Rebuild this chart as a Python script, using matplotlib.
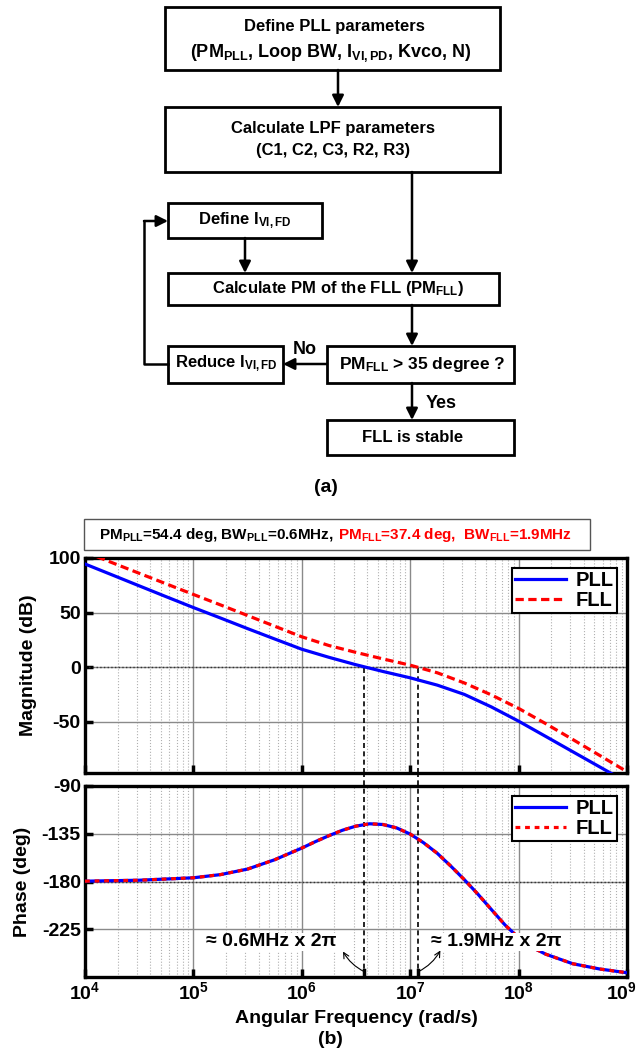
import matplotlib
matplotlib.use('Agg')
import matplotlib.pyplot as plt
from matplotlib import font_manager
from matplotlib.patches import Rectangle
from matplotlib.ticker import FixedLocator, FixedFormatter, NullFormatter

# Font: narrow bold if available
fam = 'Liberation Sans'
for cand in ['Liberation Sans Narrow', 'Liberation Sans']:
    try:
        font_manager.findfont(font_manager.FontProperties(family=[cand]), fallback_to_default=False)
        fam = cand
        break
    except ValueError:
        pass

plt.rcParams['font.family'] = [fam, 'DejaVu Sans']
plt.rcParams['font.weight'] = 'bold'
plt.rcParams['axes.labelweight'] = 'bold'
plt.rcParams['axes.unicode_minus'] = False
plt.rcParams['mathtext.fontset'] = 'custom'
plt.rcParams['mathtext.rm'] = fam + ':bold'
plt.rcParams['mathtext.it'] = fam + ':bold'
plt.rcParams['mathtext.bf'] = fam + ':bold'
plt.rcParams['mathtext.default'] = 'rm'

# ---------------- data ----------------
omega = [1.00e4, 1.78e4, 3.16e4, 5.62e4, 1.00e5, 1.78e5, 3.16e5, 5.62e5,
         1.00e6, 1.78e6, 3.16e6, 5.62e6, 1.00e7, 1.78e7, 3.16e7, 5.62e7,
         1.00e8, 1.78e8, 3.16e8, 5.62e8, 1.00e9]
mag_pll = [94.5, 84.5, 74.5, 64.5, 54.6, 45.0, 35.3, 25.8,
           16.4, 9.0, 2.2, -4.0, -9.8, -16.5, -25.0, -36.5,
           -49.5, -63.5, -77.5, -91.5, -105.5]
mag_fll = [105.5, 95.7, 86.0, 76.3, 66.6, 57.0, 47.3, 37.5,
           27.8, 19.8, 13.5, 7.5, 1.8, -5.2, -14.5, -25.5,
           -37.8, -51.8, -66.3, -81.0, -95.8]

omega_ph = [1.00e4, 3.16e4, 1.00e5, 1.78e5, 3.16e5, 5.62e5,
            1.00e6, 1.33e6, 1.78e6, 2.37e6, 3.16e6, 4.22e6, 5.62e6, 7.50e6,
            1.00e7, 1.33e7, 1.78e7, 2.37e7, 3.16e7, 4.22e7, 5.62e7, 7.50e7,
            1.00e8, 1.33e8, 1.78e8, 3.16e8, 5.62e8, 1.00e9]
phase_pll = [-179.7, -178.8, -176.5, -173.5, -168.3, -159.5,
             -148.5, -142.5, -136.8, -131.7, -127.8, -125.6, -126.3, -129.5,
             -135.3, -143.5, -153.5, -165.5, -178.3, -192.0, -206.5, -221.0,
             -233.0, -242.0, -248.5, -257.5, -262.5, -266.0]
phase_fll = phase_pll

bw_pll = 3.77e6   # 0.6 MHz x 2pi
bw_fll = 1.19e7   # 1.9 MHz x 2pi

mag_ticks = [-50, 0, 50, 100]
phase_ticks = [-225, -180, -135, -90]
x_ticks = [1e4, 1e5, 1e6, 1e7, 1e8, 1e9]
x_labels = [r'10$^{4}$', r'10$^{5}$', r'10$^{6}$', r'10$^{7}$', r'10$^{8}$', r'10$^{9}$']

W, H = 640, 1061
fig = plt.figure(figsize=(W / 100, H / 100), dpi=100)


def px_axes(x0, y0, x1, y1):
    return fig.add_axes([x0 / W, 1 - y1 / H, (x1 - x0) / W, (y1 - y0) / H])


def style_axes(ax, yticks, ylim):
    ax.set_xscale('log')
    ax.set_xlim(1e4, 1e9)
    ax.set_ylim(*ylim)
    ax.xaxis.set_major_locator(FixedLocator(x_ticks))
    ax.yaxis.set_major_locator(FixedLocator(yticks))
    ax.xaxis.set_minor_formatter(NullFormatter())
    ax.grid(which='major', axis='both', color='#8a8a8a', lw=1.0, ls='-')
    ax.grid(which='minor', axis='x', color='#b0b0b0', lw=0.8, ls=':')
    ax.tick_params(which='major', direction='in', length=6, width=2.5,
                   labelsize=14, pad=3, top=False, right=False)
    ax.tick_params(which='minor', length=0)
    for s in ax.spines.values():
        s.set_linewidth(2.4)
    ax.set_axisbelow(True)


leg_kw = dict(loc='upper right', fontsize=14.5, frameon=True, fancybox=False,
              edgecolor='k', framealpha=1, handlelength=2.5, borderaxespad=0.5,
              borderpad=0.15, labelspacing=0.05, handletextpad=0.5)

# ---------------- magnitude ----------------
ax1 = px_axes(85, 558, 627, 773)
style_axes(ax1, mag_ticks, (-97, 100))
ax1.xaxis.set_major_formatter(NullFormatter())
ax1.axhline(0, color='#333333', lw=1.0, ls=':', zorder=1)
ax1.vlines([bw_pll, bw_fll], ax1.get_ylim()[0], 0, colors='k', lw=1.2, linestyles=(0, (3, 2)), zorder=2)
ax1.plot(omega, mag_pll, color='#0000ff', lw=2.3, label='PLL', zorder=3)
ax1.plot(omega, mag_fll, color='#ff0000', lw=2.3, ls='--', dashes=(2.6, 1.4), label='FLL', zorder=3)
ax1.set_ylabel('Magnitude (dB)', fontsize=14, labelpad=8)
leg = ax1.legend(**leg_kw)
leg.get_frame().set_linewidth(1.5)

# ---------------- phase ----------------
ax2 = px_axes(85, 786, 627, 977)
style_axes(ax2, phase_ticks, (-270, -90))
ax2.xaxis.set_major_formatter(FixedFormatter(x_labels[:-1] + ['']))
ax2.annotate(x_labels[-1], xy=(x_ticks[-1], 0), xycoords=('data', 'axes fraction'),
             xytext=(-4, -3.2), textcoords='offset points', ha='center', va='top', fontsize=14)
ax2.axhline(-180, color='#333333', lw=1.0, ls=':', zorder=1)
# dashed crossing lines, continued through the gap up to the magnitude plot
ax2.vlines([bw_pll, bw_fll], -270, -77, colors='k', lw=1.2, linestyles=(0, (3, 2)),
           zorder=2, clip_on=False)
for xb in [bw_pll, bw_fll]:
    ax2.axvline(xb, ymin=0, ymax=0.035, color='k', lw=2.5, zorder=2)
ax2.plot(omega_ph, phase_pll, color='#0000ff', lw=2.3, label='PLL', zorder=3)
ax2.plot(omega_ph, phase_fll, color='#ff0000', lw=2.3, ls='--', dashes=(1.5, 1.5), label='FLL', zorder=4)
ax2.set_ylabel('Phase (deg)', fontsize=14, labelpad=8)
ax2.set_xlabel('Angular Frequency (rad/s)', fontsize=14, labelpad=5)
leg2 = ax2.legend(**leg_kw)
leg2.get_frame().set_linewidth(1.5)

ax2.text(5.2e5, -237, '≈ 0.6MHz x 2π', fontsize=14, ha='center', va='center',
         bbox=dict(facecolor='white', edgecolor='none', pad=0.5), zorder=5)
ax2.text(6.2e7, -237, '≈ 1.9MHz x 2π', fontsize=14, ha='center', va='center',
         bbox=dict(facecolor='white', edgecolor='none', pad=0.5), zorder=5)
ax2.annotate('', xy=(2.4e6, -246), xytext=(bw_pll, -265),
             arrowprops=dict(arrowstyle='->', lw=0.8, color='k',
                             connectionstyle='arc3,rad=-0.15', shrinkA=0, shrinkB=0), zorder=6)
ax2.annotate('', xy=(1.9e7, -245), xytext=(bw_fll, -265),
             arrowprops=dict(arrowstyle='->', lw=0.8, color='k',
                             connectionstyle='arc3,rad=0.15', shrinkA=0, shrinkB=0), zorder=6)

# ---------------- flowchart overlay (pixel coords) ----------------
ov = fig.add_axes([0, 0, 1, 1])
ov.set_xlim(0, W)
ov.set_ylim(H, 0)
ov.axis('off')


def box(x0, y0, x1, y1, lw=2.0, ec='k'):
    ov.add_patch(Rectangle((x0, y0), x1 - x0, y1 - y0, fill=False, lw=lw, ec=ec))


def arrow(x0, y0, x1, y1):
    ov.annotate('', xy=(x1, y1), xytext=(x0, y0),
                arrowprops=dict(arrowstyle='-|>', lw=1.8, color='k',
                                mutation_scale=17, shrinkA=0, shrinkB=0))


fs = 12
box(165, 7, 500, 70)
ov.text(334, 27, 'Define PLL parameters', fontsize=fs, ha='center', va='center')
ov.text(331, 53, r'(PM$_{\mathrm{PLL}}$, Loop BW, I$_{\mathrm{VI,PD}}$, Kvco, N)', fontsize=13, ha='center', va='center')
arrow(338, 70, 338, 107)

box(165, 107, 500, 172)
ov.text(333, 128, 'Calculate LPF parameters', fontsize=fs, ha='center', va='center')
ov.text(333, 151, '(C1, C2, C3, R2, R3)', fontsize=fs, ha='center', va='center')
arrow(412, 172, 412, 273)

box(168, 203, 322, 238)
ov.text(245, 221, r'Define I$_{\mathrm{VI,FD}}$', fontsize=fs, ha='center', va='center')
arrow(245, 238, 245, 273)

box(168, 273, 499, 305)
ov.text(338, 289, r'Calculate PM of the FLL (PM$_{\mathrm{FLL}}$)', fontsize=fs, ha='center', va='center')
arrow(412, 305, 412, 346)

box(327, 346, 514, 383)
ov.text(422, 364, r'PM$_{\mathrm{FLL}}$ > 35 degree ?', fontsize=12.5, ha='center', va='center')
box(168, 346, 283, 383)
ov.text(226, 364, r'Reduce I$_{\mathrm{VI,FD}}$', fontsize=fs, ha='center', va='center')
arrow(327, 364, 283, 364)
ov.text(305, 349, 'No', fontsize=13, ha='center', va='center')

ov.plot([168, 144, 144], [364, 364, 221], color='k', lw=1.8)
arrow(144, 221, 168, 221)

arrow(412, 383, 412, 420)
ov.text(426, 403, 'Yes', fontsize=13, ha='left', va='center')
box(327, 420, 514, 455)
ov.text(413, 437, 'FLL is stable', fontsize=fs, ha='center', va='center')

ov.text(326, 487, '(a)', fontsize=14, ha='center', va='center')

# title box of panel (b)
box(84, 519, 590, 550, lw=1.0, ec='#555555')
t1 = ov.text(99, 535, r'PM$_{\mathrm{PLL}}$=54.4 deg, BW$_{\mathrm{PLL}}$=0.6MHz, ',
             fontsize=11, ha='left', va='center')
ov.annotate(r'PM$_{\mathrm{FLL}}$=37.4 deg,  BW$_{\mathrm{FLL}}$=1.9MHz', xy=(1, 0),
            xycoords=t1, xytext=(2, 0), textcoords='offset points',
            ha='left', va='bottom', fontsize=11, color='#ff0000')

ov.text(330, 1040, '(b)', fontsize=14, ha='center', va='center')

fig.savefig('out.png', dpi=100)
